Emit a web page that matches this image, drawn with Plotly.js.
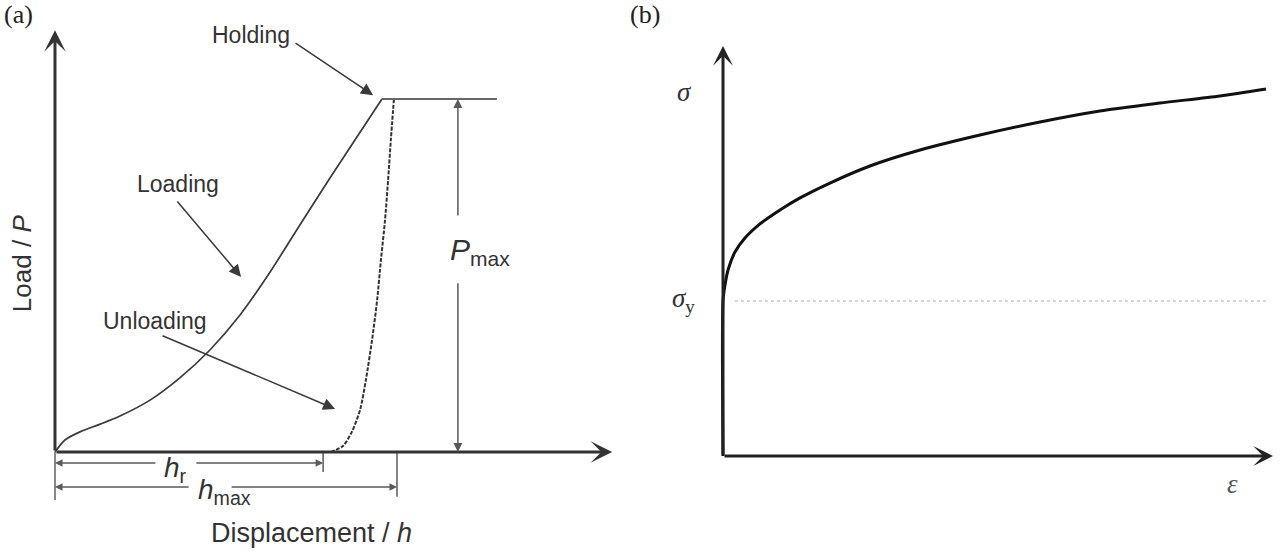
<!DOCTYPE html>
<html><head><meta charset="utf-8">
<script src="https://cdn.plot.ly/plotly-3.0.1.min.js"></script>
<style>html,body{margin:0;padding:0;background:#fff}#chart{width:1280px;height:551px}</style>
</head><body><div id="chart"></div>
<script>
// ---------- Panel (a): load / displacement (h in units of h_max, P in units of P_max)
const loadH   = [0, 0.029, 0.073, 0.132, 0.190, 0.278, 0.365, 0.453, 0.541, 0.629, 0.716, 0.804, 0.877, 0.956];
const loadP   = [0, 0.034, 0.057, 0.079, 0.102, 0.147, 0.210, 0.289, 0.388, 0.510, 0.643, 0.776, 0.884, 1.0];
const unloadH = [0.991, 0.982, 0.974, 0.965, 0.953, 0.942, 0.927, 0.909, 0.892, 0.868, 0.842, 0.807];
const unloadP = [1.0, 0.884, 0.771, 0.657, 0.544, 0.431, 0.317, 0.204, 0.119, 0.057, 0.017, 0];
const holdH   = [0.956, 1.292];
const holdP   = [1, 1];
const hR = 0.784, hMax = 1.0, pMax = 1.0;
const labelsA = ["Holding", "Loading", "Unloading"];

// ---------- Panel (b): stress / strain (sigma in units of sigma_y)
const strain = [0, 0, 0.0037, 0.0093, 0.0222, 0.0407, 0.0685, 0.1056, 0.1426, 0.1981, 0.2722, 0.3648, 0.4759, 0.5870, 0.6981, 0.8093, 0.9204, 1.0056];
const stress = [0, 1, 1.103, 1.200, 1.316, 1.406, 1.497, 1.587, 1.665, 1.761, 1.871, 1.974, 2.071, 2.155, 2.226, 2.277, 2.323, 2.368];
const sigmaY = 1;

const cA = '#3a3a3a', cDim = '#5a5a5a';
const sans = 'Liberation Sans, Arial, sans-serif';
const serif = 'Liberation Serif, Times New Roman, serif';

const traces = [
  {x: loadH, y: loadP, mode: 'lines', line: {color: cA, width: 1.7, shape: 'spline', smoothing: 0.7}, xaxis: 'x', yaxis: 'y', hoverinfo: 'skip'},
  {x: unloadH, y: unloadP, mode: 'lines', line: {color: '#333', width: 2, shape: 'spline', smoothing: 0.7, dash: '4px,1.5px'}, xaxis: 'x', yaxis: 'y', hoverinfo: 'skip'},
  {x: holdH, y: holdP, mode: 'lines', line: {color: '#666', width: 2}, xaxis: 'x', yaxis: 'y', hoverinfo: 'skip'},
  {x: strain, y: stress, mode: 'lines', line: {color: '#111', width: 3, shape: 'spline', smoothing: 0.7}, xaxis: 'x2', yaxis: 'y2', hoverinfo: 'skip'},
  {x: [0.022, 1.009], y: [sigmaY, sigmaY], mode: 'lines', line: {color: '#aaa', width: 1.2, dash: 'dot'}, xaxis: 'x2', yaxis: 'y2', hoverinfo: 'skip'}
];

function arrow(x0, y0, x1, y1, xr, yr, o) {
  return Object.assign({x: x1, y: y1, ax: x0, ay: y0, xref: xr, yref: yr, axref: xr, ayref: yr,
    text: '', showarrow: true, arrowhead: 2, arrowsize: 1, arrowwidth: 1.5, arrowcolor: cA,
    standoff: 0, startstandoff: 0}, o || {});
}
function label(x, y, text, xr, yr, o) {
  return Object.assign({x: x, y: y, xref: xr, yref: yr, text: text, showarrow: false,
    xanchor: 'center', yanchor: 'middle',
    font: {family: sans, size: 23, color: '#333'}}, o || {});
}

const ann = [
  // axes of (a)
  arrow(0, 0, 1.629, 0, 'x', 'y', {arrowhead: 3, arrowwidth: 3, arrowsize: 1.2, arrowcolor: '#333'}),
  arrow(0, 0, 0, 1.195, 'x', 'y', {arrowhead: 3, arrowwidth: 3, arrowsize: 1.2, arrowcolor: '#333'}),
  // label arrows
  arrow(0.699, 1.161, 0.930, 1.011, 'x', 'y', {arrowsize: 1.6}),
  arrow(0.354, 0.714, 0.544, 0.496, 'x', 'y', {arrowsize: 1.6}),
  arrow(0.310, 0.331, 0.819, 0.122, 'x', 'y', {arrowsize: 1.6}),
  label(0.573, 1.181, labelsA[0], 'x', 'y'),
  label(0.360, 0.759, labelsA[1], 'x', 'y'),
  label(0.292, 0.371, labelsA[2], 'x', 'y'),
  // P_max dimension
  arrow(1.178, 0.666, 1.178, pMax, 'x', 'y', {arrowcolor: cDim, arrowsize: 1.2}),
  arrow(1.178, 0.482, 1.178, 0, 'x', 'y', {arrowcolor: cDim, arrowsize: 1.2}),
  label(1.149, 0.567, '<i>P</i><sub>max</sub>', 'x', 'y', {xanchor: 'left', font: {family: sans, size: 30, color: '#333'}}),
  // h_r dimension
  arrow(0.298, -0.031, 0, -0.031, 'x', 'y', {arrowcolor: cDim, arrowsize: 1}),
  arrow(0.409, -0.031, hR, -0.031, 'x', 'y', {arrowcolor: cDim, arrowsize: 1}),
  label(0.351, -0.051, '<i>h</i><sub>r</sub>', 'x', 'y', {font: {family: sans, size: 28, color: '#333'}}),
  // h_max dimension
  arrow(0.395, -0.099, 0, -0.099, 'x', 'y', {arrowcolor: cDim, arrowsize: 1}),
  arrow(0.512, -0.099, hMax, -0.099, 'x', 'y', {arrowcolor: cDim, arrowsize: 1}),
  label(0.497, -0.113, '<i>h</i><sub>max</sub>', 'x', 'y', {font: {family: sans, size: 28, color: '#333'}}),
  // axis titles
  label(-0.0965, 0.535, 'Load / <i>P</i>', 'x', 'y', {textangle: -90, font: {family: sans, size: 26, color: '#333'}}),
  label(0.749, -0.229, 'Displacement / <i>h</i>', 'x', 'y', {font: {family: sans, size: 27, color: '#333'}}),
  // axes of (b)
  arrow(0, 0, 1.0185, 0, 'x2', 'y2', {arrowhead: 3, arrowwidth: 3, arrowsize: 1.1, arrowcolor: '#222'}),
  arrow(0, 0, 0, 2.645, 'x2', 'y2', {arrowhead: 3, arrowwidth: 3, arrowsize: 1.1, arrowcolor: '#222'}),
  label(-0.0704, 2.35, '<i>σ</i>', 'x2', 'y2', {font: {family: serif, size: 27, color: '#333'}}),
  label(-0.074, 1.006, '<i>σ</i><sub>y</sub>', 'x2', 'y2', {font: {family: serif, size: 27, color: '#333'}}),
  label(0.944, -0.181, '<i>ε</i>', 'x2', 'y2', {font: {family: serif, size: 27, color: '#555'}}),
  // panel letters
  label(18 / 1280, 1 - 14 / 551, '(a)', 'paper', 'paper', {font: {family: serif, size: 26, color: '#222'}}),
  label(645 / 1280, 1 - 14 / 551, '(b)', 'paper', 'paper', {font: {family: serif, size: 26, color: '#222'}})
];

const shapes = [
  {type: 'line', xref: 'x', yref: 'y', x0: 0, x1: 0, y0: 0, y1: -0.136, line: {color: '#888', width: 2}},
  {type: 'line', xref: 'x', yref: 'y', x0: hR, x1: hR, y0: 0, y1: -0.057, line: {color: cDim, width: 1.5}},
  {type: 'line', xref: 'x', yref: 'y', x0: hMax, x1: hMax, y0: 0, y1: -0.127, line: {color: cDim, width: 1.5}}
];

const hidden = {showgrid: false, zeroline: false, showticklabels: false, ticks: '', showline: false, fixedrange: true};
const layout = {
  width: 1280, height: 551, margin: {l: 0, r: 0, t: 0, b: 0},
  paper_bgcolor: '#fff', plot_bgcolor: '#fff', showlegend: false,
  xaxis: Object.assign({domain: [0, 0.5], range: [-0.1608, 1.7105]}, hidden),
  yaxis: Object.assign({domain: [0, 1], range: [-0.2805, 1.2805]}, hidden),
  xaxis2: Object.assign({domain: [0.5, 1], range: [-0.1537, 1.0315], anchor: 'y2'}, hidden),
  yaxis2: Object.assign({domain: [0, 1], range: [-0.6129, 2.9419], anchor: 'x2'}, hidden),
  annotations: ann, shapes: shapes
};
Plotly.newPlot('chart', traces, layout, {staticPlot: true});
</script></body></html>
